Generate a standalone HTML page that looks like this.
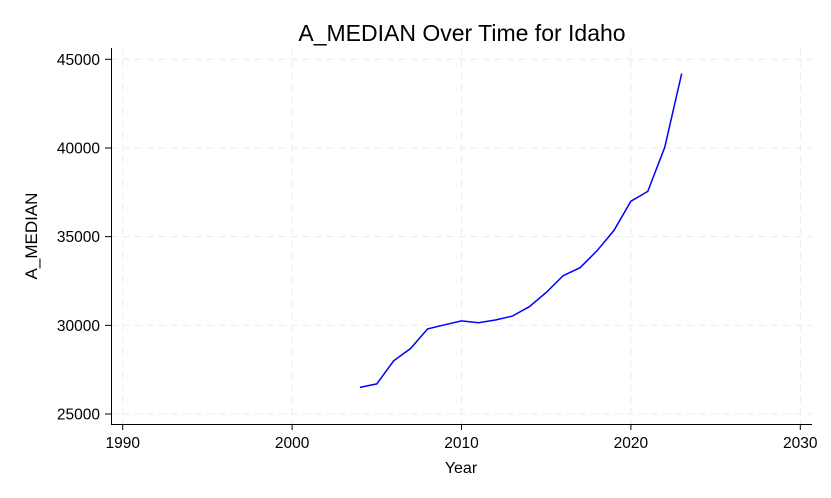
<!DOCTYPE html>
<html><head><meta charset="utf-8"><style>
body{margin:0;background:#fff;}
svg{display:block;font-family:"Liberation Sans",Arial,sans-serif;}
</style></head><body>
<svg id="chart" width="831" height="498" viewBox="0 0 831 498">
<text x="462" y="41" text-anchor="middle" font-size="23" fill="#000">A_MEDIAN Over Time for Idaho</text>
<g id="grid"></g>
<g id="axes"></g>
<path id="series" fill="none" stroke="#0000ff" stroke-width="1.5"/>
<text x="461" y="473" text-anchor="middle" font-size="16">Year</text>
<text transform="translate(37,236) rotate(-90)" text-anchor="middle" font-size="17">A_MEDIAN</text>
</svg>
<script>
const years=[2004,2005,2006,2007,2008,2009,2010,2011,2012,2013,2014,2015,2016,2017,2018,2019,2020,2021,2022,2023];
const values=[26500,26700,28000,28700,29800,30030,30250,30150,30300,30520,31050,31850,32800,33250,34200,35350,37000,37550,40050,44200];
const xTicks=[1990,2000,2010,2020,2030];
const yTicks=[25000,30000,35000,40000,45000];
const NS="http://www.w3.org/2000/svg";
function sx(v){return 122.7+(v-1990)*(800.3-122.7)/40;}
function sy(v){return 414+(v-25000)*(59.3-414)/20000;}
function mk(tag,attrs,parent){const e=document.createElementNS(NS,tag);for(const k in attrs)e.setAttribute(k,attrs[k]);parent.appendChild(e);return e;}
const grid=document.getElementById('grid'),axes=document.getElementById('axes');
xTicks.forEach(t=>{
 const g=mk('line',{x1:sx(t),x2:sx(t),y1:48,y2:424,stroke:'#ececec','stroke-dasharray':'7,5'},grid);
 
 
 const tk=mk('line',{x1:sx(t),x2:sx(t),y1:424,y2:430,stroke:'#000'},axes);
 
 
 const l=mk('text',{x:sx(t),y:448,'text-anchor':'middle','font-size':15.5},axes);
 l.textContent=t;
 
 
});
yTicks.forEach(t=>{
 const g=mk('line',{x1:111,x2:812,y1:sy(t),y2:sy(t),stroke:'#ececec','stroke-dasharray':'7,5'},grid);
 
 
 const tk=mk('line',{x1:105,x2:111,y1:sy(t),y2:sy(t),stroke:'#000'},axes);
 
 
 const l=mk('text',{x:100,y:sy(t)+5.5,'text-anchor':'end','font-size':15.5},axes);
 l.textContent=t;
 
 
});
const ya=mk('line',{x1:111.5,x2:111.5,y1:48,y2:424.5,stroke:'#000'},axes);


const xa=mk('line',{x1:111,x2:812,y1:424.5,y2:424.5,stroke:'#000'},axes);


document.getElementById('series').setAttribute('d',years.map((y,i)=>(i?'L':'M')+sx(y).toFixed(1)+','+sy(values[i]).toFixed(1)).join(''));
</script>
</body></html>
